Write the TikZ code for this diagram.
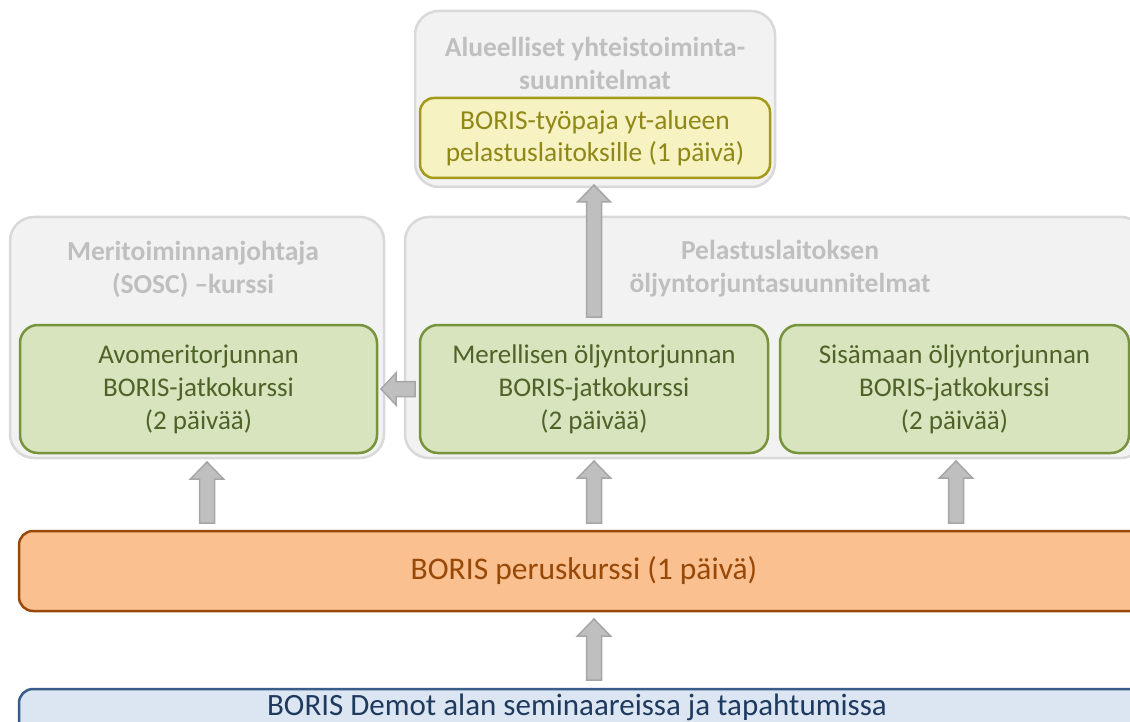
\documentclass[tikz,border=0pt]{standalone}
\usepackage{fontspec}
\setmainfont{Carlito}
\usetikzlibrary{calc}
\definecolor{grayfill}{HTML}{F2F2F2}
\definecolor{grayline}{HTML}{D9D9D9}
\definecolor{graytext}{HTML}{BFBFBF}
\definecolor{greenfill}{HTML}{D7E4BD}
\definecolor{greenline}{HTML}{77933C}
\definecolor{greentext}{HTML}{4F6228}
\definecolor{yellowfill}{HTML}{F6F2C2}
\definecolor{yellowline}{HTML}{A39A1A}
\definecolor{yellowtext}{HTML}{8F8716}
\definecolor{orangefill}{HTML}{FAC090}
\definecolor{orangeline}{HTML}{984807}
\definecolor{orangetext}{HTML}{984807}
\definecolor{bluefill}{HTML}{DCE6F2}
\definecolor{blueline}{HTML}{385D8A}
\definecolor{bluetext}{HTML}{1F3A5F}
\definecolor{arrfill}{HTML}{BFBFBF}
\definecolor{arrline}{HTML}{A6A6A6}
\tikzset{
  graybox/.style={draw=grayline, fill=grayfill, line width=2.5pt, rounded corners=24pt, inner sep=0pt},
  greenbox/.style={draw=greenline, fill=greenfill, line width=2.5pt, rounded corners=18pt, inner sep=0pt,
     text=greentext, align=center, font=\fontsize{27}{33}\selectfont},
  yellowbox/.style={draw=yellowline, fill=yellowfill, line width=2.5pt, rounded corners=14pt, inner sep=0pt,
     text=yellowtext, align=center, font=\fontsize{27.4}{32}\selectfont},
  orangebox/.style={draw=orangeline, fill=orangefill, line width=2.5pt, rounded corners=14pt, inner sep=0pt,
     text=orangetext, font=\fontsize{31.5}{33}\selectfont},
  bluebox/.style={draw=blueline, fill=bluefill, line width=2.5pt, rounded corners=14pt, inner sep=0pt},
  headtext/.style={text=graytext, align=center, font=\bfseries\fontsize{27.5}{33}\selectfont},
  bluetxt/.style={text=bluetext, font=\fontsize{31}{33}\selectfont},
  blk/.style={draw=arrline, fill=arrfill, line width=1.5pt, line join=miter}
}
\newcommand\uparr[2]{\draw[blk] let \p1=(#1), \p2=(#2) in
  (\x1-7.5pt,\y1) -- (\x1-7.5pt,\y2-17pt) -- (\x1-16.5pt,\y2-17pt) -- (\x2,\y2)
  -- (\x1+16.5pt,\y2-17pt) -- (\x1+7.5pt,\y2-17pt) -- (\x1+7.5pt,\y1) -- cycle;}
\newcommand\leftarr[2]{\draw[blk] let \p1=(#1), \p2=(#2) in
  (\x1,\y1-7.5pt) -- (\x2+15pt,\y1-7.5pt) -- (\x2+15pt,\y1-16pt) -- (\x2,\y2)
  -- (\x2+15pt,\y1+16pt) -- (\x2+15pt,\y1+7.5pt) -- (\x1,\y1+7.5pt) -- cycle;}
\begin{document}
\begin{tikzpicture}[x=1pt,y=-1pt]
\useasboundingbox (0,0) rectangle (1130,722);
\clip (0,0) rectangle (1130,722);
\fill[white] (0,0) rectangle (1130,722);
% top group
\node[graybox, minimum width=360pt, minimum height=176pt] (T) at (595,99) {};
\node[headtext] (Tt) at (595,63.5) {Alueelliset yhteistoiminta-\\suunnitelmat};
\node[yellowbox, minimum width=350pt, minimum height=80pt] (Y) at (595,138) {BORIS-työpaja yt-alueen\\pelastuslaitoksille (1 päivä)};
% left group
\node[graybox, minimum width=374pt, minimum height=241pt] (G1) at (197,337.5) {};
\node[headtext] (G1t) at (193,269) {Meritoiminnanjohtaja\\(SOSC) –kurssi};
\node[greenbox, minimum width=357pt, minimum height=128pt] (A) at (198.5,389) {Avomeritorjunnan\\BORIS-jatkokurssi\\(2 päivää)};
% right group
\node[graybox, minimum width=740pt, minimum height=241pt] (G2) at (775,337.5) {};
\node[headtext] (G2t) at (780,269) {Pelastuslaitoksen\\öljyntorjuntasuunnitelmat};
\node[greenbox, minimum width=348pt, minimum height=128pt] (M) at (594,389) {Merellisen öljyntorjunnan\\BORIS-jatkokurssi\\(2 päivää)};
\node[greenbox, minimum width=349pt, minimum height=128pt] (S) at (954.5,389) {Sisämaan öljyntorjunnan\\BORIS-jatkokurssi\\(2 päivää)};
% base boxes
\node[orangebox, minimum width=1130pt, minimum height=80pt] (O) at (584,571) {BORIS peruskurssi (1 päivä)};
\node[bluebox, minimum width=1130pt, minimum height=80pt] (B) at (584,729) {};
\node[bluetxt] (Bt) at (577,707) {BORIS Demot alan seminaareissa ja tapahtumissa};
% arrow end points
\coordinate (a1s) at (207,523); \coordinate (a1t) at (207,462);
\coordinate (a2s) at (594,523); \coordinate (a2t) at (594,461);
\coordinate (a3s) at (956,523); \coordinate (a3t) at (956,461);
\coordinate (a4s) at (594,317); \coordinate (a4t) at (594,185);
\coordinate (a5s) at (594,680); \coordinate (a5t) at (594,619);
\coordinate (a6s) at (415,389); \coordinate (a6t) at (381,389);
\uparr{a1s}{a1t}
\uparr{a2s}{a2t}
\uparr{a3s}{a3t}
\uparr{a4s}{a4t}
\uparr{a5s}{a5t}
\leftarr{a6s}{a6t}
\end{tikzpicture}
\end{document}
